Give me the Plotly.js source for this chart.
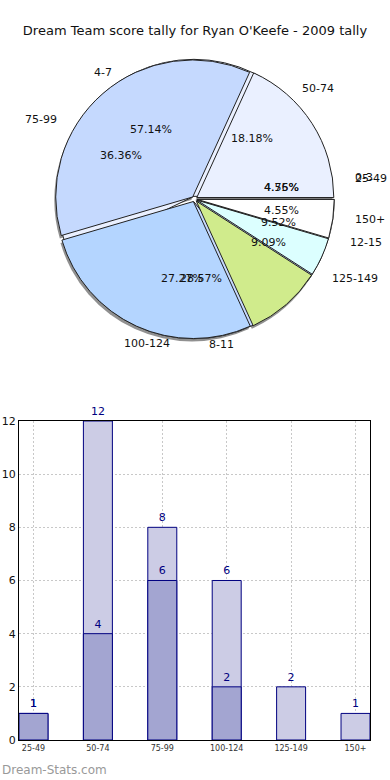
<!DOCTYPE html>
<html>
<head>
<meta charset="utf-8">
<script src="https://cdn.plot.ly/plotly-3.0.1.min.js"></script>
<style>html,body{margin:0;padding:0;background:#fff;}#chart{width:390px;height:780px;}</style>
</head>
<body>
<div id="chart"></div>
<script>
// ---- data ----
const scoreLabels = ["25-49", "50-74", "75-99", "100-124", "125-149", "150+"];
const scoreCounts = [1, 4, 8, 6, 2, 1];
const scoreColors = ["#ffffff", "#eaf0ff", "#c5d9fe", "#b4d5ff", "#d0eb8c", "#dcffff"];

const tallyLabels = ["0-3", "4-7", "8-11", "12-15"];
const tallyCounts = [1, 12, 6, 2];
const tallyColors = ["#f4f4f4", "#eaf0ff", "#c5d9fe", "#b8cbf2"];

const barCategories = ["25-49", "50-74", "75-99", "100-124", "125-149", "150+"];
const barLight = [1, 12, 8, 6, 2, 1];
const barDark = [1, 4, 6, 2, null, null];

// ---- layout constants ----
const FONT = "DejaVu Sans, Arial, sans-serif";
const W = 390, H = 780, ML = 19, MR = 20, MT = 0, MB = 40;
const PW = W - ML - MR, PH = H - MT - MB;
const PULL = 0.02;
const pieDomX = [0, 1];
const pieDomY = [0.5422, 0.9199];
// text placement (matplotlib style: labels at 1.1 radius, percents at 0.6 radius)
const TXT_CX = ML + PW * (pieDomX[0] + pieDomX[1]) / 2;
const TXT_CY = MT + PH * (1 - (pieDomY[0] + pieDomY[1]) / 2);
const TXT_RX = 146, TXT_RY = 133;

const shift = (d, s) => [d[0] + s, d[1] + s];
const transparent = n => Array(n).fill("rgba(0,0,0,0)");

function pieBase(labels, values, extra) {
  return Object.assign({
    type: "pie", labels: labels, values: values, sort: false,
    direction: "counterclockwise", rotation: 90,
    domain: {x: pieDomX, y: pieDomY},
    pull: values.map(() => PULL),
    textinfo: "none", hoverinfo: "none", showlegend: false
  }, extra);
}

function pieTexts(labels, values) {
  const total = values.reduce((a, b) => a + b, 0);
  let cum = 0;
  const out = [];
  values.forEach((v, i) => {
    const mid = 2 * Math.PI * (cum + v / 2) / total;
    cum += v;
    const c = Math.cos(mid), s = Math.sin(mid);
    const toPaperX = px => (px - ML) / PW;
    const toPaperY = py => (MT + PH - py) / PH;
    // label
    out.push({
      text: labels[i], xref: "paper", yref: "paper", showarrow: false,
      x: toPaperX(TXT_CX + 1.1 * TXT_RX * c), y: toPaperY(TXT_CY - 1.1 * TXT_RY * s),
      xanchor: c >= 0 ? "left" : "right", yanchor: "middle",
      font: {family: FONT, size: 11, color: "#111"}
    });
    // percent
    out.push({
      text: (v / total * 100).toFixed(2) + "%", xref: "paper", yref: "paper", showarrow: false,
      x: toPaperX(TXT_CX + 0.6 * TXT_RX * c), y: toPaperY(TXT_CY - 0.6 * TXT_RY * s),
      xanchor: "center", yanchor: "middle",
      font: {family: FONT, size: 11, color: "#111"}
    });
  });
  return out;
}

const traces = [
  // shadow
  pieBase(scoreLabels, scoreCounts, {
    domain: {x: shift(pieDomX, -0.008), y: shift(pieDomY, -0.004)},
    marker: {colors: Array(6).fill("rgba(70,70,70,0.6)"), line: {width: 0}}
  }),
  // tally pie (behind)
  pieBase(tallyLabels, tallyCounts, {
    marker: {colors: tallyColors, line: {color: "#222", width: 1}}
  }),
  // score pie (front)
  pieBase(scoreLabels, scoreCounts, {
    marker: {colors: scoreColors, line: {color: "#222", width: 1}}
  }),
  // bars
  {
    type: "bar", x: barCategories, y: barLight, width: 0.45,
    marker: {color: "#cccce5", line: {color: "#000080", width: 1}},
    text: barLight.map(String), textposition: "outside",
    textfont: {family: FONT, size: 11, color: "#000080"},
    cliponaxis: false, hoverinfo: "none", showlegend: false,
    xaxis: "x", yaxis: "y"
  },
  {
    type: "bar", x: barCategories, y: barDark, width: 0.45,
    marker: {color: "#a3a5d1", line: {color: "#000080", width: 1}},
    text: barDark.map(v => v == null ? "" : String(v)), textposition: "outside",
    textfont: {family: FONT, size: 11, color: "#000080"},
    cliponaxis: false, hoverinfo: "none", showlegend: false,
    xaxis: "x", yaxis: "y"
  }
];

const annotations = pieTexts(scoreLabels, scoreCounts)
  .concat(pieTexts(tallyLabels, tallyCounts))
  .concat([{
    text: "Dream-Stats.com", xref: "paper", yref: "paper",
    x: -ML / PW, xanchor: "left", y: -30 / PH, yanchor: "middle",
    showarrow: false, font: {family: FONT, size: 12, color: "#999"}
  }]);

const gridStyle = {showgrid: true, gridcolor: "#c8c8c8", griddash: "2px,2px", gridwidth: 1};

const layout = {
  width: W, height: H,
  margin: {l: ML, r: MR, t: MT, b: MB},
  paper_bgcolor: "#fff", plot_bgcolor: "#fff",
  font: {family: FONT, size: 11, color: "#111"},
  title: {text: "Dream Team score tally for Ryan O'Keefe - 2009 tally",
          font: {family: FONT, size: 13, color: "#111"},
          x: 0.5, xref: "container", y: 1 - 30 / H, yref: "container", yanchor: "middle"},
  barmode: "overlay",
  xaxis: Object.assign({
    domain: [0, 1], range: [-0.225, 5.225], type: "category",
    showline: true, mirror: true, linecolor: "#000", linewidth: 1,
    ticks: "", tickfont: {family: FONT, size: 8, color: "#333"},
    zeroline: false, fixedrange: true
  }, gridStyle),
  yaxis: Object.assign({
    domain: [0, 0.4311], range: [0, 12],
    tickvals: [0, 2, 4, 6, 8, 10, 12],
    showline: true, mirror: true, linecolor: "#000", linewidth: 1,
    ticks: "", tickfont: {family: FONT, size: 11, color: "#111"},
    zeroline: false, fixedrange: true
  }, gridStyle),
  annotations: annotations
};

Plotly.newPlot("chart", traces, layout, {staticPlot: true, displayModeBar: false});
</script>
</body>
</html>
